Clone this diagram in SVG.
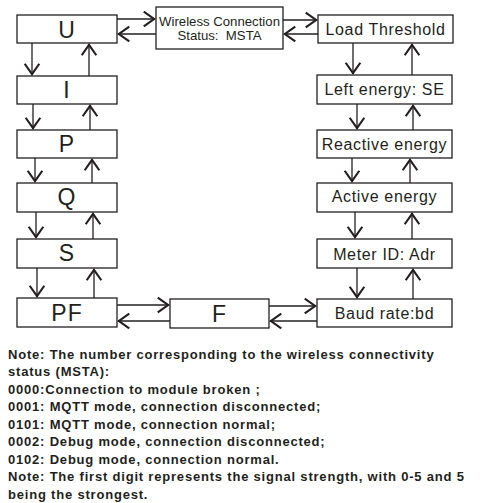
<svg xmlns="http://www.w3.org/2000/svg" width="491" height="503" viewBox="0 0 491 503">
<defs>
<style>
.box{fill:#fff;stroke:#231f20;stroke-width:1.3}
.big{font-family:"Liberation Sans",Arial,sans-serif;font-size:23px;fill:#231f20;text-anchor:middle;letter-spacing:1px}
.lbl{font-family:"Liberation Sans",Arial,sans-serif;font-size:16px;fill:#231f20;text-anchor:middle;letter-spacing:0.65px}
.sm{font-family:"Liberation Sans",Arial,sans-serif;font-size:13.2px;fill:#231f20;text-anchor:middle}
.note{font-family:"Liberation Sans",Arial,sans-serif;font-size:13px;font-weight:bold;fill:#231f20;letter-spacing:0.8px}
.c{stroke:#231f20;stroke-width:1.3;fill:none;marker-end:url(#ah)}
</style>
<marker id="ah" markerUnits="userSpaceOnUse" markerWidth="16" markerHeight="18" viewBox="-12 -8 14 16" refX="0" refY="0" orient="auto">
<path d="M-10,-6.5 L-0.8,0 L-10,6.5" fill="none" stroke="#231f20" stroke-width="1.9" stroke-linejoin="miter"/>
</marker>
</defs>
<g id="connectors">
<line class="c" x1="117" y1="19" x2="155" y2="19"/>
<line class="c" x1="156" y1="34" x2="118" y2="34"/>
<line class="c" x1="283" y1="20" x2="317" y2="20"/>
<line class="c" x1="318" y1="34" x2="284" y2="34"/>
<line class="c" x1="32" y1="43" x2="32" y2="75"/>
<line class="c" x1="89" y1="76" x2="89" y2="44"/>
<line class="c" x1="33" y1="104" x2="33" y2="129"/>
<line class="c" x1="90" y1="130" x2="90" y2="105"/>
<line class="c" x1="35" y1="158" x2="35" y2="182"/>
<line class="c" x1="92" y1="183" x2="92" y2="159"/>
<line class="c" x1="36" y1="212" x2="36" y2="238"/>
<line class="c" x1="93" y1="239" x2="93" y2="213"/>
<line class="c" x1="37" y1="268" x2="37" y2="297"/>
<line class="c" x1="94" y1="298" x2="94" y2="269"/>
<line class="c" x1="117" y1="305" x2="169" y2="305"/>
<line class="c" x1="170" y1="321" x2="118" y2="321"/>
<line class="c" x1="269" y1="306" x2="316" y2="306"/>
<line class="c" x1="317" y1="321" x2="270" y2="321"/>
<line class="c" x1="353" y1="43" x2="353" y2="74"/>
<line class="c" x1="412" y1="75" x2="412" y2="44"/>
<line class="c" x1="357" y1="104" x2="357" y2="129"/>
<line class="c" x1="413" y1="130" x2="413" y2="105"/>
<line class="c" x1="352" y1="158" x2="352" y2="182"/>
<line class="c" x1="410" y1="183" x2="410" y2="159"/>
<line class="c" x1="355" y1="212" x2="355" y2="238"/>
<line class="c" x1="412" y1="239" x2="412" y2="213"/>
<line class="c" x1="357" y1="268" x2="357" y2="298"/>
<line class="c" x1="413" y1="299" x2="413" y2="269"/>
</g>
<g id="node-U"><rect class="box" x="17" y="15" width="100" height="28"/><text class="big" x="67" y="37.5">U</text></g>
<g id="node-I"><rect class="box" x="17" y="76" width="100" height="28"/><text class="big" x="67" y="98">I</text></g>
<g id="node-P"><rect class="box" x="17" y="130" width="100" height="28"/><text class="big" x="67" y="152">P</text></g>
<g id="node-Q"><rect class="box" x="17" y="183" width="100" height="29"/><text class="big" x="67" y="205">Q</text></g>
<g id="node-S"><rect class="box" x="17" y="239" width="100" height="29"/><text class="big" x="67" y="261">S</text></g>
<g id="node-PF"><rect class="box" x="17" y="298" width="100" height="29"/><text class="big" x="67" y="321">PF</text></g>
<g id="node-F"><rect class="box" x="170" y="299" width="99" height="29"/><text class="big" x="219.5" y="322">F</text></g>
<g id="node-wireless"><rect class="box" x="156" y="7" width="127" height="42"/><text class="sm" x="219.5" y="25.5">Wireless Connection</text><text class="sm" x="219.5" y="40">Status:&#160; MSTA</text></g>
<g id="node-load"><rect class="box" x="318" y="15" width="135" height="28"/><text class="lbl" x="385.5" y="35">Load Threshold</text></g>
<g id="node-left"><rect class="box" x="317" y="75" width="135" height="29"/><text class="lbl" x="384.5" y="95">Left energy: SE</text></g>
<g id="node-reactive"><rect class="box" x="317" y="130" width="135" height="28"/><text class="lbl" x="384.5" y="150">Reactive energy</text></g>
<g id="node-active"><rect class="box" x="317" y="183" width="135" height="29"/><text class="lbl" x="384.5" y="202">Active energy</text></g>
<g id="node-meter"><rect class="box" x="317" y="239" width="135" height="29"/><text class="lbl" x="384.5" y="260">Meter ID: Adr</text></g>
<g id="node-baud"><rect class="box" x="317" y="299" width="135" height="28"/><text class="lbl" x="384.5" y="319">Baud rate:bd</text></g>
<g id="notes">
<text class="note" x="8" y="358.5">Note: The number corresponding to the wireless connectivity</text>
<text class="note" x="8" y="376">status (MSTA):</text>
<text class="note" x="8" y="393.5">0000:Connection to module broken ;</text>
<text class="note" x="8" y="411">0001: MQTT mode, connection disconnected;</text>
<text class="note" x="8" y="428.5">0101: MQTT mode, connection normal;</text>
<text class="note" x="8" y="446">0002: Debug mode, connection disconnected;</text>
<text class="note" x="8" y="463.5">0102: Debug mode, connection normal.</text>
<text class="note" x="8" y="481">Note: The first digit represents the signal strength, with 0-5 and 5</text>
<text class="note" x="8" y="498.5">being the strongest.</text>
</g>
</svg>
